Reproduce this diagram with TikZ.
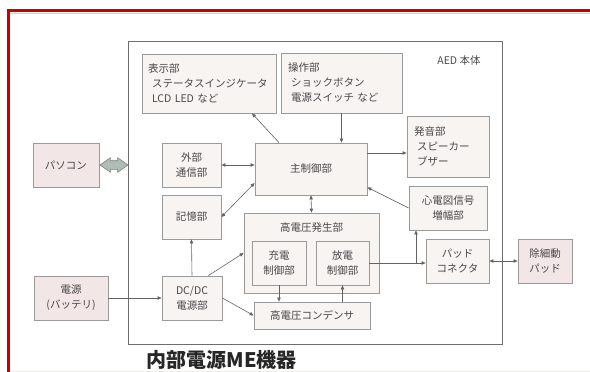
\documentclass[tikz,border=0pt]{standalone}
\usepackage{fontspec}
\setmainfont{Noto Sans CJK JP}
\usetikzlibrary{arrows.meta,shapes.arrows}

\definecolor{boxfill}{HTML}{F8F4F2}
\definecolor{outfill}{HTML}{F3E6E6}
\definecolor{edge}{HTML}{9A9A9A}
\definecolor{ink}{HTML}{484848}
\definecolor{frame}{HTML}{C80000}
\definecolor{linkfill}{HTML}{AEBDB5}

\tikzset{
  blk/.style={draw=edge, fill=boxfill, line width=0.8pt, text=ink, inner sep=0pt, align=center, font=\fontsize{10.5}{15}\selectfont},
  outblk/.style={blk, fill=outfill},
  conn/.style={draw=ink!85, line width=0.6pt, -{Triangle[length=4pt,width=3.4pt]}},
  bothconn/.style={conn, {Triangle[length=4pt,width=3.4pt]}-{Triangle[length=4pt,width=3.4pt]}},
  fatlink/.style={double arrow, draw=ink!70, fill=linkfill, line width=0.6pt, minimum height=28pt, minimum width=0pt, inner xsep=0pt, inner ysep=4pt, double arrow head extend=3pt, double arrow tip angle=70},
}

\begin{document}
\begin{tikzpicture}[x=1pt,y=-1pt]
\useasboundingbox (0,0) rectangle (590,372);

% frame
\draw[frame, line width=3.5pt] (8.5,372) -- (8.5,10.3) -- (590,10.3);
\draw[gray!35, line width=0.8pt] (10.3,13.5) -- (590,13.5);
\draw[pink!40, line width=1pt] (10.3,371.5) -- (590,371.5);

% AED body
\node[draw=ink!80, line width=1pt, minimum width=374pt, minimum height=303pt, inner sep=0pt] (aed) at (315,192.5) {};
\node[text=ink, font=\fontsize{10.5}{12}\selectfont] (aedlabel) at (459,61) {AED 本体};

% blocks
\node[blk, align=left, text width=122pt, inner xsep=6pt, minimum height=59pt] (disp) at (209,83.5)
  {表示部\\\hspace*{4pt}ステータスインジケータ\\\hspace*{4pt}LCD LED など};
\node[blk, align=left, text width=107pt, inner xsep=7pt, minimum height=60pt] (ctrl) at (341.5,83)
  {操作部\\\hspace*{3pt}ショックボタン\\\hspace*{3pt}電源スイッチ など};
\node[blk, align=left, text width=68pt, inner xsep=7pt, minimum height=61pt] (sound) at (448,146.5)
  {発音部\\\hspace*{3pt}スピーカー\\\hspace*{3pt}ブザー};
\node[blk, minimum width=112pt, minimum height=52pt] (main) at (311,169) {主制御部};
\node[blk, minimum width=59pt, minimum height=44pt] (comm) at (191.5,165) {外部\\通信部};
\node[blk, minimum width=59pt, minimum height=44pt] (mem) at (191.5,217) {記憶部};
\node[blk, minimum width=135pt, minimum height=80pt] (hv) at (311.5,253) {};
\node[text=ink, font=\fontsize{10.5}{12}\selectfont] (hvtitle) at (311.5,228) {高電圧発生部};
\node[blk, minimum width=54pt, minimum height=44pt] (chg) at (279,263) {充電\\制御部};
\node[blk, minimum width=53pt, minimum height=44pt] (dis) at (342.5,263) {放電\\制御部};
\node[blk, minimum width=116pt, minimum height=27pt] (cap) at (312,315.5) {高電圧コンデンサ};
\node[blk, minimum width=60pt, minimum height=44pt] (dcdc) at (192,298) {DC/DC\\電源部};
\node[blk, minimum width=78pt, minimum height=44pt] (ecg) at (448,208) {心電図信号\\増幅部};
\node[blk, minimum width=63pt, minimum height=44pt] (padc) at (457.5,261) {パッド\\コネクタ};

% outside
\node[outblk, minimum width=66pt, minimum height=44pt] (pc) at (66,165) {パソコン};
\node[outblk, minimum width=74pt, minimum height=44pt] (batt) at (71,298) {電源\\(バッテリ)};
\node[outblk, minimum width=54pt, minimum height=44pt] (pad) at (545,261) {除細動\\パッド};
\node[fatlink] (link) at (114,165) {};

% connectors
\draw[conn] ([xshift=-32pt]main.north) -- ([xshift=43pt]disp.south);
\draw[conn] (ctrl.south) -- (ctrl.south |- main.north);
\draw[conn] ([yshift=16pt]main.east) -- ([yshift=-6.5pt]sound.west);
\draw[bothconn] (comm.east) -- (comm.east -| main.west);
\draw[bothconn] (mem.east) -- ([yshift=-14pt]main.west);
\draw[bothconn] (main.south) -- (hv.north);
\draw[conn] (ecg.west) -- ([yshift=8pt]main.south east);
\draw[conn] (dcdc.north) -- (mem.south);
\draw[conn] ([xshift=-14pt]dcdc.north east) -- (hv.west);
\draw[conn] (dcdc.east) -- (cap.west);
\draw[conn] (batt.east) -- (dcdc.west);
\draw[conn] (chg.south) -- (chg.south |- cap.north);
\draw[conn] (cap.north -| dis.south) -- (dis.south);
\draw[conn] (dis.east) -- (dis.east -| padc.west);
\coordinate (br) at ([xshift=-32pt]ecg.south);
\draw[conn] (br |- dis.east) -- (br);
\draw[bothconn] (padc.east) -- (pad.west);

\node[anchor=west, font=\fontsize{20}{22}\selectfont\bfseries, text=black!85] (title) at (143,360) {内部電源ME機器};
\end{tikzpicture}
\end{document}
